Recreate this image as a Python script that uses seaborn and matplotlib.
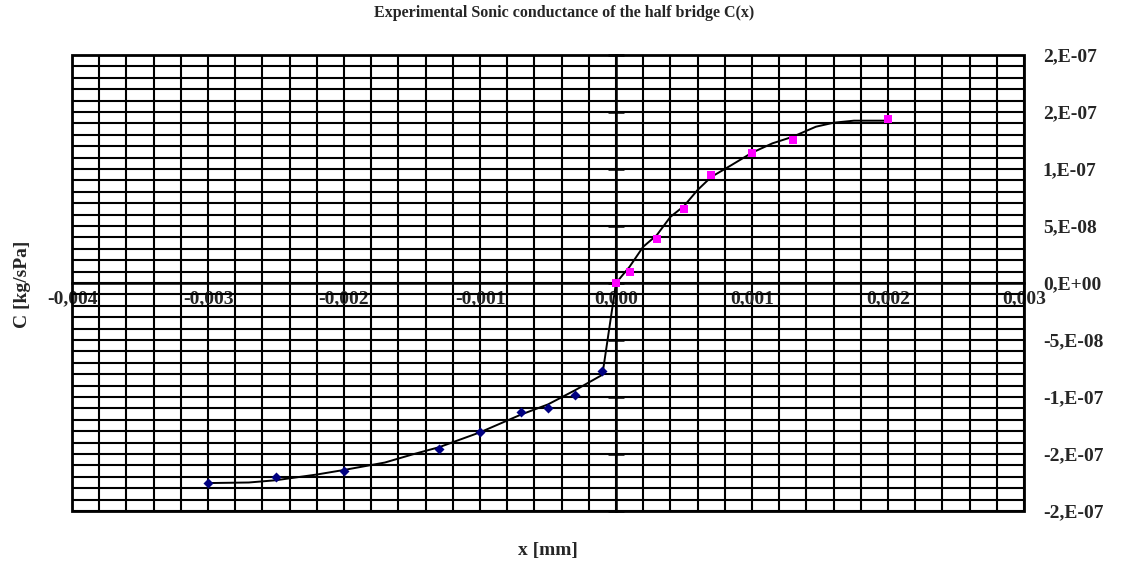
import numpy as np
import pandas as pd
import matplotlib
matplotlib.use("Agg")
import matplotlib.pyplot as plt
import seaborn as sns
from matplotlib.patches import Rectangle
from matplotlib.ticker import MultipleLocator

# measured points, x in mm, C in kg/sPa
neg_x = [-0.0030, -0.0025, -0.0020, -0.0013, -0.0010, -0.0007, -0.0005, -0.0003, -0.0001]
neg_c = [-1.752e-7, -1.704e-7, -1.646e-7, -1.459e-7, -1.304e-7, -1.129e-7, -1.094e-7, -0.985e-7, -0.769e-7]

pos_x = [0.0000, 0.0001, 0.0003, 0.0005, 0.0007, 0.0010, 0.0013, 0.0020]
pos_c = [0.0, 0.097e-7, 0.383e-7, 0.646e-7, 0.947e-7, 1.138e-7, 1.254e-7, 1.441e-7]

# fitted curve
curve_x = [-0.0030, -0.0027, -0.0025, -0.0022, -0.0020, -0.0017, -0.0015, -0.0013,
           -0.0010, -0.0007, -0.0005, -0.0003, -0.0001, 0.0000,
           0.0001, 0.0002, 0.0003, 0.0004, 0.0005, 0.0006, 0.0007, 0.00085,
           0.0010, 0.00115, 0.0013, 0.00147, 0.0016, 0.00175, 0.0020]
curve_c = [-1.755e-7, -1.750e-7, -1.730e-7, -1.680e-7, -1.640e-7, -1.575e-7, -1.505e-7, -1.440e-7,
           -1.310e-7, -1.155e-7, -1.065e-7, -0.940e-7, -0.805e-7, 0.0,
           0.143e-7, 0.318e-7, 0.420e-7, 0.580e-7, 0.675e-7, 0.816e-7, 0.930e-7, 1.035e-7,
           1.143e-7, 1.225e-7, 1.283e-7, 1.371e-7, 1.406e-7, 1.424e-7, 1.424e-7]

x_ticks = [-0.004, -0.003, -0.002, -0.001, 0.0, 0.001, 0.002, 0.003]
x_labels = ["-0,004", "-0,003", "-0,002", "-0,001", "0,000", "0,001", "0,002", "0,003"]
y_ticks = [-2e-7, -1.5e-7, -1e-7, -5e-8, 0.0, 5e-8, 1e-7, 1.5e-7, 2e-7]
y_labels = ["-2,E-07", "-2,E-07", "-1,E-07", "-5,E-08", "0,E+00", "5,E-08", "1,E-07", "2,E-07", "2,E-07"]

neg_df = pd.DataFrame({"x": neg_x, "C": neg_c})
pos_df = pd.DataFrame({"x": pos_x, "C": pos_c})
curve_df = pd.DataFrame({"x": curve_x, "C": curve_c})

sns.set_theme(style="white")
plt.rcParams["font.family"] = ["Liberation Serif", "DejaVu Serif"]

fig = plt.figure(figsize=(11.29, 5.66), dpi=100)
ax = fig.add_axes([72 / 1129, 1 - 511 / 566, (1024 - 72) / 1129, (511 - 55) / 566])

ax.set_xlim(-0.004, 0.003)
ax.set_ylim(-2e-7, 2e-7)

# dense black grid
ax.xaxis.set_minor_locator(MultipleLocator(0.0002))
ax.yaxis.set_minor_locator(MultipleLocator(1e-8))
ax.grid(True, which="both", color="black", linewidth=1.5, zorder=0)
ax.set_axisbelow(True)

sns.lineplot(data=curve_df, x="x", y="C", ax=ax, color="black", linewidth=1.4,
             sort=False, estimator=None, zorder=3)
sns.scatterplot(data=neg_df, x="x", y="C", ax=ax, color="#000080", marker="D",
                s=26, edgecolor="#000080", linewidth=0, zorder=4)
sns.scatterplot(data=pos_df, x="x", y="C", ax=ax, color="#FF00FF", marker="s",
                s=32, edgecolor="#FF00FF", linewidth=0, zorder=4)

# axes cross at zero, plot area gets a full border
ax.spines["left"].set_position(("data", 0))
ax.spines["bottom"].set_position(("data", 0))
ax.spines["top"].set_visible(False)
for s in ["left", "bottom"]:
    ax.spines[s].set_color("black")
    ax.spines[s].set_linewidth(1.8)
ax.spines["right"].set_visible(False)
ax.add_patch(Rectangle((0, 0), 1, 1, transform=ax.transAxes, fill=False,
                       edgecolor="black", linewidth=2.0, zorder=5, clip_on=False))

ax.set_xticks(x_ticks)
ax.set_xticklabels(x_labels)
ax.set_yticks(y_ticks)
ax.set_yticklabels(y_labels)
ax.tick_params(axis="x", which="major", direction="inout", length=11, width=1.8,
               color="black", pad=0, labelsize=14)
ax.tick_params(axis="y", which="major", direction="inout", length=11, width=1.8,
               color="black", left=True, right=False, labelleft=False,
               labelright=True, pad=8, labelsize=14)
ax.tick_params(which="minor", length=0)
for lab in ax.get_xticklabels() + ax.get_yticklabels():
    lab.set_fontweight("bold")

ax.set_xlabel("")
ax.set_ylabel("")

fig.text(564 / 1129, 1 - 13 / 566, "Experimental Sonic conductance of the half bridge C(x)",
         ha="center", va="center", fontsize=11.5, fontweight="bold")
fig.text(548 / 1129, 1 - 550 / 566, "x [mm]", ha="center", va="center",
         fontsize=14, fontweight="bold")
fig.text(23 / 1129, 1 - 284 / 566, "C [kg/sPa]", ha="center", va="center",
         rotation=90, fontsize=14, fontweight="bold")

fig.savefig("out.png", dpi=100)
